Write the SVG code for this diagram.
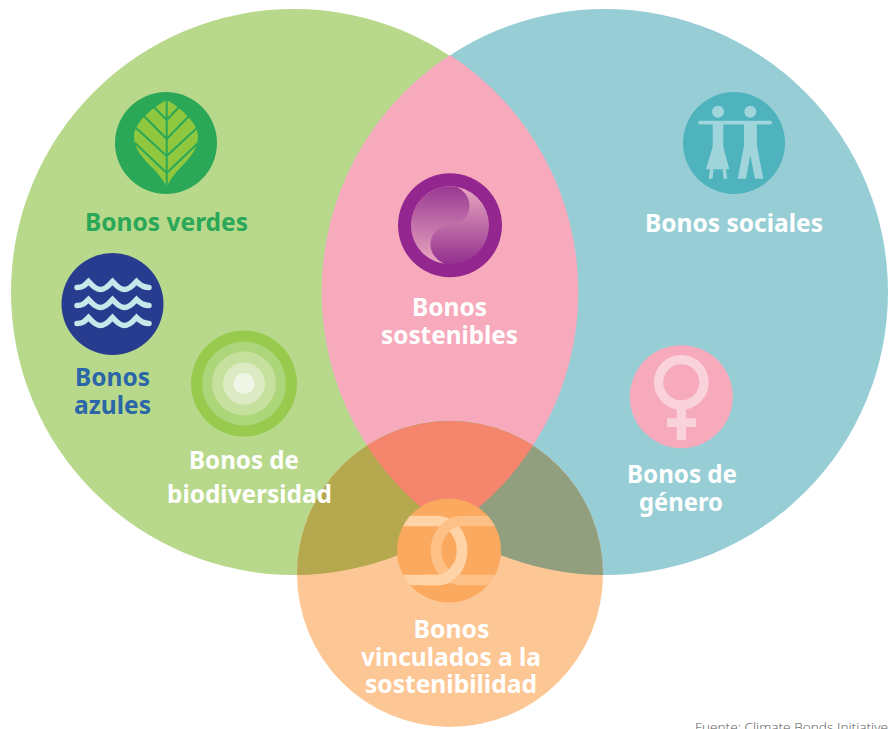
<svg xmlns="http://www.w3.org/2000/svg" width="893" height="729" viewBox="0 0 893 729">
<style>
.t{font-family:"Noto Sans","Open Sans","Liberation Sans",sans-serif;font-weight:700;font-size:25.5px;text-anchor:middle;fill:#fff}
.f{font-family:"Open Sans","Noto Sans",sans-serif;font-weight:300;font-size:13.5px;fill:#555}
</style>
<defs>
<clipPath id="cg"><circle cx="294" cy="292" r="283"/></clipPath>
<clipPath id="cb"><circle cx="605" cy="292" r="283"/></clipPath>
<clipPath id="cl"><path d="M450 55A283 283 0 0 1 450 529A283 283 0 0 1 450 55Z"/></clipPath>
<clipPath id="ci"><circle cx="450" cy="225.300" r="39"/></clipPath>
<clipPath id="co"><circle cx="449" cy="550.500" r="52"/></clipPath>
<linearGradient id="g1" x1="0" y1="0" x2="0" y2="1"><stop offset="0" stop-color="#93308f"/><stop offset="1" stop-color="#eba9c0"/></linearGradient>
<linearGradient id="g2" x1="0" y1="0" x2="0" y2="1"><stop offset="0" stop-color="#eba9c0"/><stop offset="1" stop-color="#93308f"/></linearGradient>
<path id="wave" d="M77 287.500C83 287.500 85 285 88.500 281.500C92 285 95 289.500 100.500 289.500C106 289.500 109 285 112.500 281.500C116 285 119 289.500 124.500 289.500C130 289.500 133 285 136.500 281.500C140 285 143 287.500 149 287.500" fill="none" stroke="#c7e8ea" stroke-width="5.500" stroke-linecap="round"/>
</defs>
<rect width="893" height="729" fill="#fff"/>
<g id="connectors"/>
<g id="venn">
<circle cx="294" cy="292" r="283" fill="#b8d98b"/>
<circle cx="605" cy="292" r="283" fill="#97ced6"/>
<path d="M450 55A283 283 0 0 1 450 529A283 283 0 0 1 450 55Z" fill="#f6aabc"/>
<circle cx="450" cy="574" r="153" fill="#fcc795"/>
<g clip-path="url(#cg)"><circle cx="450" cy="574" r="153" fill="#b5a84f"/></g>
<g clip-path="url(#cb)"><circle cx="450" cy="574" r="153" fill="#929f7f"/></g>
<g clip-path="url(#cl)"><circle cx="450" cy="574" r="153" fill="#f5866d"/></g>
</g>
<g id="verdes">
<circle cx="166" cy="143" r="51" fill="#2aa857"/>
<path d="M166.700 100C178 106 198 122 198 136C198 158 176 166 166.700 187C157 166 134 158 134 136C134 122 155 106 166.700 100Z" fill="#8fc73e"/>
<path d="M166.700 100V187M166.700 120L153 106M166.700 120L180 106M166.700 139L143 115M166.700 139L190 115M166.700 156L135 127M166.700 156L198 127M166.700 173L135 143M166.700 173L198 143" fill="none" stroke="#2aa857" stroke-width="2"/>
<text class="t" x="166.500" y="231" textLength="163" lengthAdjust="spacingAndGlyphs" style="fill:#2aa857">Bonos verdes</text>
</g>
<g id="azules">
<circle cx="112.500" cy="304" r="51" fill="#273c8f"/>
<use href="#wave"/><use href="#wave" y="18"/><use href="#wave" y="36"/>
<text class="t" x="112.500" y="386" textLength="75" lengthAdjust="spacingAndGlyphs" style="fill:#2a66a8">Bonos</text>
<text class="t" x="112.500" y="414" textLength="77" lengthAdjust="spacingAndGlyphs" style="fill:#2a66a8">azules</text>
</g>
<g id="biodiversidad">
<circle cx="244" cy="383.500" r="53" fill="#98cb4d"/>
<circle cx="244" cy="383.500" r="42" fill="#add67a"/>
<circle cx="244" cy="383.500" r="32" fill="#c6e09d"/>
<circle cx="244" cy="383.500" r="21" fill="#dcebc3"/>
<circle cx="244" cy="383.500" r="10.500" fill="#f0f6e6"/>
<text class="t" x="244" y="469" textLength="110" lengthAdjust="spacingAndGlyphs">Bonos de</text>
<text class="t" x="249.500" y="503" textLength="165" lengthAdjust="spacingAndGlyphs">biodiversidad</text>
</g>
<g id="sociales">
<circle cx="734" cy="143" r="51" fill="#4fb3be"/>
<g fill="#a0d5dc">
<circle cx="718" cy="111.700" r="6"/><circle cx="750.300" cy="111.700" r="6"/>
<rect x="698" y="120.700" width="74" height="3.800" rx="1.900"/>
<path d="M712.700 122H723.300V146.700L729.300 169.300H726L727.300 178.700H723.500L722.500 169.300H713.500L712.500 178.700H708.700L710 169.300H706L712.700 146.700Z"/>
<path d="M744 122H756.700L757 146L763.300 178.700H755L750.300 155L746 178.700H737.700L744 146Z"/>
</g>
<text class="t" x="734" y="232" textLength="178" lengthAdjust="spacingAndGlyphs">Bonos sociales</text>
</g>
<g id="sostenibles">
<circle cx="450" cy="225.300" r="52" fill="#93268f"/>
<g clip-path="url(#ci)">
<rect x="411" y="186" width="78" height="78" fill="url(#g2)"/>
<path d="M455 186C464 190 469.500 197 469.500 205.500C469.500 217 460 225.300 450 225.300C440 225.300 430.500 233 430.500 245C430.500 254 438 262 448 265H400V180H455Z" fill="url(#g1)"/>
</g>
<text class="t" x="449.500" y="316" textLength="75" lengthAdjust="spacingAndGlyphs">Bonos</text>
<text class="t" x="449.500" y="344" textLength="137" lengthAdjust="spacingAndGlyphs">sostenibles</text>
</g>
<g id="genero">
<circle cx="681.300" cy="396.700" r="51.500" fill="#f6aabc"/>
<circle cx="681.300" cy="382.300" r="22.700" fill="none" stroke="#fad2dc" stroke-width="9.300"/>
<path d="M676.700 408H686V418.300H696V427H686V440H676.700V427H667V418.300H676.700Z" fill="#fad2dc"/>
<text class="t" x="682" y="483" textLength="110" lengthAdjust="spacingAndGlyphs">Bonos de</text>
<text class="t" x="681" y="511" textLength="84" lengthAdjust="spacingAndGlyphs">género</text>
</g>
<g id="vinculados">
<circle cx="449" cy="550.500" r="52" fill="#fba95f"/>
<g clip-path="url(#co)" fill="none" stroke-width="10.700">
<path d="M390 521H437C452 521 462 535 462 550.500C462 566 452 580 437 580H390" stroke="#ffd3a6"/>
<path d="M505 521H462C447 521 436 535 436 550.500C436 566 447 580 462 580H505" stroke="#fdc087"/>
<path d="M458 566C453 575 446 580 437 580H425" stroke="#ffd3a6"/>
</g>
<text class="t" x="451.500" y="638" textLength="76" lengthAdjust="spacingAndGlyphs">Bonos</text>
<text class="t" x="451" y="666" textLength="180" lengthAdjust="spacingAndGlyphs">vinculados a la</text>
<text class="t" x="451" y="693" textLength="172" lengthAdjust="spacingAndGlyphs">sostenibilidad</text>
</g>
<text class="f" x="695" y="732" textLength="193" lengthAdjust="spacingAndGlyphs">Fuente: Climate Bonds Initiative</text>
</svg>
